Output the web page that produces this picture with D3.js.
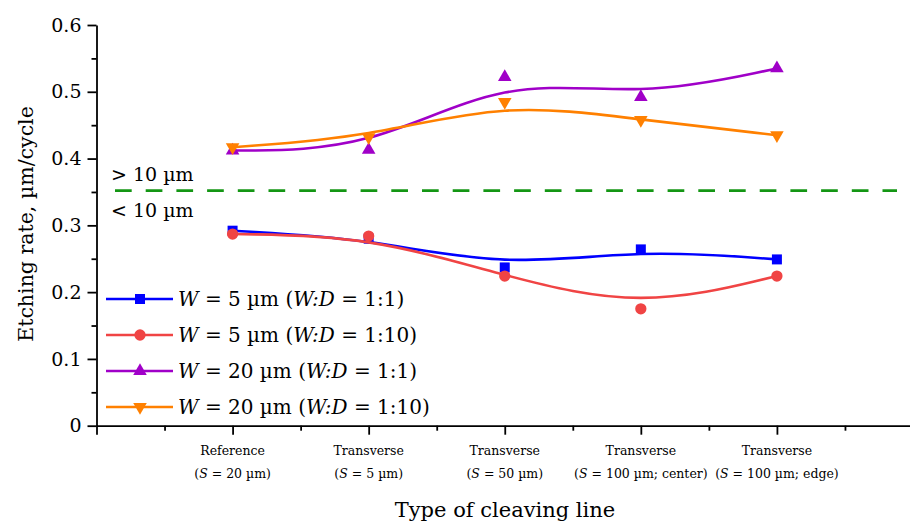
<!DOCTYPE html>
<meta charset="utf-8">
<html>
<head>
<script src="https://d3js.org/d3.v7.min.js"></script>
<style>
  body { margin: 0; background: #fff; }
  svg { font-family: "DejaVu Serif", serif; }
  .axis path, .axis line { stroke: #000; stroke-width: 1.8px; }
  .axis text { fill: #000; font-family: "DejaVu Serif", serif; }
</style>
</head>
<body>
<svg id="chart" width="910" height="525"></svg>
<script>
// categories on the x axis (two-line labels)
const catTop = ["Reference", "Transverse", "Transverse", "Transverse", "Transverse"];
const catSub = ["20 µm", "5 µm", "50 µm", "100 µm; center", "100 µm; edge"];

// etching rate, µm/cycle
const w5_1to1   = [0.292, 0.280, 0.237, 0.264, 0.249];
const w5_1to10  = [0.287, 0.284, 0.224, 0.175, 0.224];
const w20_1to1  = [0.412, 0.413, 0.522, 0.492, 0.535];
const w20_1to10 = [0.417, 0.432, 0.485, 0.458, 0.435];

const threshold = 0.352;
const yTicks = [0, 0.1, 0.2, 0.3, 0.4, 0.5, 0.6];

const series = [
  { w: "5",  ratio: "1:1",  values: w5_1to1,   color: "#0000ff", shape: "square" },
  { w: "5",  ratio: "1:10", values: w5_1to10,  color: "#f04444", shape: "circle" },
  { w: "20", ratio: "1:1",  values: w20_1to1,  color: "#a000c8", shape: "up" },
  { w: "20", ratio: "1:10", values: w20_1to10, color: "#ff8000", shape: "down" }
];

const svg = d3.select("#chart");

const x = d3.scaleLinear().domain([0, 6]).range([96.5, 913]);
const y = d3.scaleLinear().domain([0, 0.6]).range([425.7, 25]);

// y axis: major + minor ticks
svg.append("g")
  .attr("class", "axis")
  .attr("transform", "translate(96.5,0)")
  .call(d3.axisLeft(y).tickValues(d3.range(0.05, 0.6, 0.1)).tickSize(5).tickFormat(""))
  .call(g => g.select(".domain").remove());

svg.append("g")
  .attr("class", "axis")
  .attr("transform", "translate(96.5,0)")
  .call(d3.axisLeft(y).tickValues(yTicks).tickSize(9).tickPadding(6)
        .tickFormat(d => d === 0 ? "0" : d3.format(".1f")(d)).tickSizeOuter(0))
  .call(g => g.selectAll("text").style("font-size", "19px"));

// x axis
svg.append("g")
  .attr("class", "axis")
  .attr("transform", "translate(0,425.7)")
  .call(d3.axisBottom(x).tickValues(d3.range(0.5, 6, 1)).tickSize(5).tickFormat(""))
  .call(g => g.select(".domain").remove());

const xAxis = svg.append("g")
  .attr("class", "axis")
  .attr("transform", "translate(0,425.7)")
  .call(d3.axisBottom(x).tickValues(d3.range(0, 7)).tickSize(9).tickFormat("").tickSizeOuter(0));

// category labels
catTop.forEach((t, i) => {
  const g = xAxis.append("g").attr("transform", `translate(${x(i + 1)},0)`)
    .style("font-size", "12.5px").attr("text-anchor", "middle");
  g.append("text").attr("y", 29).text(t);
  const s = g.append("text").attr("y", 52);
  s.append("tspan").text("(");
  s.append("tspan").attr("font-style", "italic").text("S");
  s.append("tspan").text(" = " + catSub[i] + ")");
});

// axis titles
svg.append("text")
  .attr("x", 505).attr("y", 517)
  .attr("text-anchor", "middle")
  .style("font-size", "21px")
  .text("Type of cleaving line");

svg.append("text")
  .attr("transform", "translate(33,224) rotate(-90)")
  .attr("text-anchor", "middle")
  .style("font-size", "20.5px")
  .text("Etching rate, µm/cycle");

// 10 µm threshold
svg.append("line")
  .attr("x1", 115).attr("x2", 897)
  .attr("y1", y(threshold)).attr("y2", y(threshold))
  .attr("stroke", "#149614").attr("stroke-width", 2.7)
  .attr("stroke-dasharray", "16.7,14");

svg.append("text").attr("x", 111).attr("y", 181).style("font-size", "19px").text("> 10 µm");
svg.append("text").attr("x", 111).attr("y", 217).style("font-size", "19px").text("< 10 µm");

// markers
function symbolFor(shape) {
  if (shape === "square") return d3.symbol().type(d3.symbolSquare).size(100)();
  if (shape === "circle") return d3.symbol().type(d3.symbolCircle).size(100)();
  return d3.symbol().type(d3.symbolTriangle).size(80)();
}

const line = d3.line()
  .x((d, i) => x(i + 1))
  .y(d => y(d))
  .curve(d3.curveBasis);

series.forEach(s => {
  svg.append("path")
    .datum(s.values)
    .attr("fill", "none")
    .attr("stroke", s.color)
    .attr("stroke-width", 2.6)
    .attr("d", line);

  svg.selectAll(null)
    .data(s.values)
    .enter()
    .append("path")
      .attr("d", symbolFor(s.shape))
      .attr("fill", s.color)
      .attr("transform", (d, i) => `translate(${x(i + 1)},${y(d)})` + (s.shape === "down" ? " rotate(180)" : ""));
});

// legend
const legend = svg.append("g").attr("transform", "translate(106,299)");
series.forEach((s, i) => {
  const row = legend.append("g").attr("transform", `translate(0,${i * 36})`);
  row.append("line").attr("x1", 0).attr("x2", 67)
    .attr("stroke", s.color).attr("stroke-width", 2.6);
  row.append("path").attr("d", symbolFor(s.shape)).attr("fill", s.color)
    .attr("transform", "translate(34,0)" + (s.shape === "down" ? " rotate(180)" : ""));
  const t = row.append("text").attr("x", 72).attr("y", 7).style("font-size", "20px");
  t.append("tspan").attr("font-style", "italic").text("W");
  t.append("tspan").text(" = " + s.w + " µm (");
  t.append("tspan").attr("font-style", "italic").text("W:D");
  t.append("tspan").text(" = " + s.ratio + ")");
});
</script>
</body>
</html>
